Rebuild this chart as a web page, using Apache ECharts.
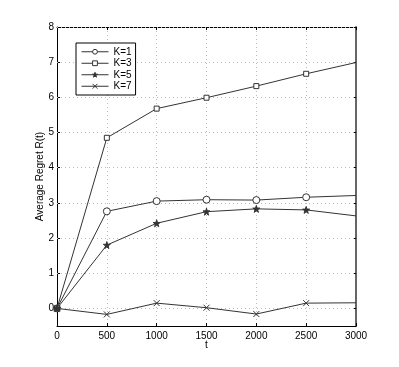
<!DOCTYPE html>
<html>
<head>
<meta charset="utf-8">
<script src="https://cdn.jsdelivr.net/npm/echarts@6/dist/echarts.min.js"></script>
<style>
  html, body { margin: 0; padding: 0; background: #fff; }
  #chart { width: 399px; height: 367px; }
</style>
</head>
<body>
<div id="chart"></div>
<script>
// 横坐标与各曲线数据
var tValues = [0, 500, 1000, 1500, 2000, 2500, 3000];
var k1 = [0, 2.76, 3.05, 3.09, 3.08, 3.16, 3.21];
var k3 = [0, 4.85, 5.68, 5.99, 6.32, 6.67, 6.99];
var k5 = [0, 1.80, 2.42, 2.75, 2.83, 2.80, 2.63];
var k7 = [0, -0.17, 0.15, 0.02, -0.16, 0.15, 0.16];
var seriesNames = ["K=1", "K=3", "K=5", "K=7"];
var yTicks = [0, 1, 2, 3, 4, 5, 6, 7, 8];

var lineColor = "#333";
var starPath = "path://M50 0L61 35L98 35L68 57L79 91L50 70L21 91L32 57L2 35L39 35Z";
var crossPath = "path://M0 0L10 10M10 0L0 10";
var fontFamily = "Liberation Sans, Arial, sans-serif";
var gridLine = { color: "#bbb", type: [1, 3], width: 1 };

function pairs(values) {
  // 最后一个点在边框上，不画标记
  return values.map(function (v, i) {
    var item = { value: [tValues[i], v] };
    if (i === values.length - 1) item.symbol = "none";
    return item;
  });
}

function makeSeries(name, values, symbol, size, fill, extra) {
  return Object.assign({
    name: name,
    type: "line",
    data: pairs(values),
    symbol: symbol,
    symbolSize: size,
    showAllSymbol: true,
    lineStyle: { color: lineColor, width: 1 },
    itemStyle: { color: fill, borderColor: lineColor, borderWidth: 1 },
    emphasis: { disabled: true },
    z: 3,
  }, extra || {});
}

var yTickCommon = {
  show: true,
  inside: true,
  length: 3,
  customValues: yTicks,
  lineStyle: { color: "#000" },
};
var xTickCommon = { show: true, inside: true, length: 3, lineStyle: { color: "#000" } };

var option = {
  animation: false,
  textStyle: { fontFamily: fontFamily },
  grid: { left: 57, right: 43, top: 27, bottom: 41 },
  legend: {
    orient: "vertical",
    left: 76,
    top: 43,
    padding: [3, 4, 3, 5],
    itemGap: 0,
    itemWidth: 27,
    itemHeight: 6,
    backgroundColor: "#fff",
    borderColor: "#000",
    borderWidth: 1,
    borderRadius: 0,
    lineStyle: { width: 1 },
    itemStyle: { borderWidth: 1 },
    textStyle: { fontSize: 10, color: "#000", fontFamily: fontFamily, lineHeight: 11.5 },
    data: seriesNames,
  },
  xAxis: [
    {
      type: "value",
      min: 0,
      max: 3000,
      interval: 500,
      name: "t",
      nameLocation: "middle",
      nameGap: 14,
      nameMoveOverlap: false,
      nameTextStyle: { fontSize: 10, color: "#000" },
      axisLine: { show: true, onZero: false, lineStyle: { color: "#000", width: 1 } },
      axisTick: xTickCommon,
      axisLabel: {
        fontSize: 10, color: "#000", margin: 5,
        formatter: function (v) { return String(v); },
      },
      splitLine: { show: true, lineStyle: gridLine },
    },
    {
      type: "value",
      position: "top",
      min: 0,
      max: 3000,
      interval: 500,
      axisLine: { show: true, onZero: false, lineStyle: { color: "#000", width: 1 } },
      axisTick: xTickCommon,
      axisLabel: { show: false },
      splitLine: { show: false },
    },
  ],
  yAxis: [
    {
      type: "value",
      min: -0.5,
      max: 8,
      name: "Average Regret R(t)",
      nameLocation: "middle",
      nameGap: 12,
      nameMoveOverlap: false,
      nameRotate: 90,
      nameTextStyle: { fontSize: 10, color: "#000" },
      axisLine: { show: true, onZero: false, lineStyle: { color: "#000", width: 1 } },
      axisTick: yTickCommon,
      axisLabel: { fontSize: 10, color: "#000", margin: 3, customValues: yTicks },
      splitLine: { show: false },
    },
    {
      type: "value",
      position: "right",
      min: -0.5,
      max: 8,
      axisLine: { show: true, onZero: false, lineStyle: { color: "#666", width: 2 } },
      axisTick: yTickCommon,
      axisLabel: { show: false, customValues: yTicks },
      splitLine: { show: false },
    },
  ],
  series: [
    makeSeries(seriesNames[0], k1, "circle", 7, "#fff", {
      // 横向网格线
      markLine: {
        silent: true,
        symbol: "none",
        label: { show: false },
        lineStyle: gridLine,
        z: 1,
        data: yTicks.map(function (v) { return { yAxis: v }; }),
      },
    }),
    makeSeries(seriesNames[1], k3, "rect", 5, "#fff"),
    makeSeries(seriesNames[2], k5, starPath, 7, lineColor),
    makeSeries(seriesNames[3], k7, crossPath, 6, "none"),
  ],
};

var chart = echarts.init(document.getElementById("chart"), null, { renderer: "canvas" });
chart.setOption(option);
</script>
</body>
</html>
